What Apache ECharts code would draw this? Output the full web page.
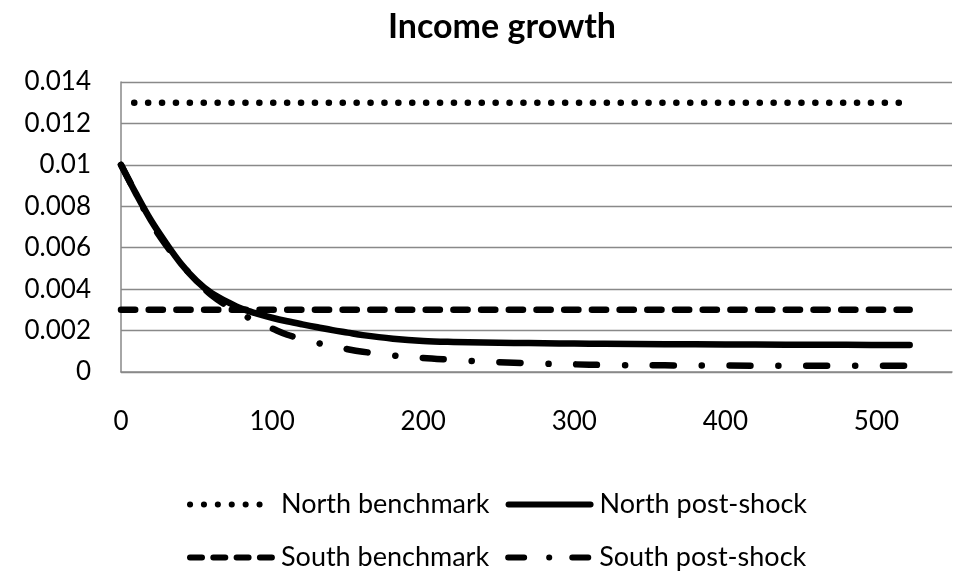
<!DOCTYPE html>
<html>
<head>
<meta charset="utf-8">
<script src="https://cdn.jsdelivr.net/npm/echarts@6/dist/echarts.min.js"></script>
<style>
  html, body { margin: 0; padding: 0; background: #ffffff; }
  #chart { width: 959px; height: 573px; }
</style>
</head>
<body>
<div id="chart"></div>
<script>
// Series names, in drawing order
const seriesNames = ['North benchmark', 'North post-shock', 'South benchmark', 'South post-shock'];

// Benchmark paths are flat: one value at the first and last period
const benchX = [0, 522];
const northBenchmark = [0.013, 0.013];
const southBenchmark = [0.003, 0.003];

// Post-shock paths sampled along the period axis
const shockX = [0, 10, 20, 30, 40, 50, 60, 70, 80, 90, 100, 110, 120, 130, 140, 150, 160, 180,
                200, 220, 240, 260, 280, 300, 320, 360, 400, 440, 480, 522];
const northPostShock = [0.0100, 0.0086, 0.0073, 0.0062, 0.0052, 0.0044, 0.0038, 0.0034, 0.00305, 0.00282,
                        0.00262, 0.00245, 0.0023, 0.00216, 0.00202, 0.0019, 0.00178, 0.00161,
                        0.0015, 0.00145, 0.00142, 0.0014, 0.00139, 0.00137, 0.00136, 0.00134, 0.00133, 0.00132, 0.00131, 0.0013];
const southPostShock = [0.0100, 0.0086, 0.0072, 0.0061, 0.0052, 0.0044, 0.0037, 0.0032, 0.0028, 0.0024,
                        0.0021, 0.0018, 0.0016, 0.0014, 0.00125, 0.0011, 0.00098, 0.0008,
                        0.00068, 0.00059, 0.0005, 0.00045, 0.0004, 0.00037, 0.00034, 0.00032, 0.00031, 0.0003, 0.0003, 0.0003];

// Axis settings
const xAxisMax = 550, xStep = 100;
const yAxisMax = 0.014, yStep = 0.002;

const pairs = (xs, ys) => xs.map((x, i) => [x, ys[i]]);

const FONT = 'Lato, Carlito, "Open Sans", sans-serif';
const LW = 6.5;
const GRID = '#898989';

// Stroke patterns: round dots, solid, dashes, dash-dot
const styles = [
  { type: [0.1, 13.8], dashOffset: 0.7 },
  { type: 'solid' },
  { type: [14.2, 13.5] },
  { type: [21, 28, 0.1, 27.6] }
];
// Shorter patterns for the legend samples
const legendPatterns = [
  { type: [0.1, 13.8], dashOffset: 0 },
  { type: 'solid' },
  { type: [12, 11.3] },
  { type: [16, 25, 0.1, 23] }
];
const dataSets = [
  pairs(benchX, northBenchmark),
  pairs(shockX, northPostShock),
  pairs(benchX, southBenchmark),
  pairs(shockX, southPostShock)
];

const series = seriesNames.map((name, i) => ({
  name: name,
  type: 'line',
  data: dataSets[i],
  symbol: 'none',
  showSymbol: false,
  smooth: i % 2 === 1 ? 0.35 : false,
  animation: false,
  lineStyle: Object.assign({ color: '#000', width: LW, cap: 'round', join: 'round' }, styles[i]),
  itemStyle: { color: '#000' },
  emphasis: { disabled: true }
}));

const legendBase = {
  left: 187,
  padding: 0,
  orient: 'horizontal',
  itemWidth: 82,
  itemHeight: 14,
  itemGap: 16,
  selectedMode: false,
  itemStyle: { opacity: 0 },
  lineStyle: { width: 6, cap: 'round' },
  textStyle: { fontFamily: FONT, fontSize: 27, color: '#000', padding: [0, 0, 0, 4] }
};
const legendItem = i => ({ name: seriesNames[i], lineStyle: legendPatterns[i] });

const chart = echarts.init(document.getElementById('chart'), null, { renderer: 'canvas' });
chart.setOption({
  backgroundColor: '#ffffff',
  animation: false,
  title: {
    text: 'Income growth',
    left: 497,
    textAlign: 'center',
    top: 5,
    textStyle: { fontFamily: FONT, fontSize: 34, fontWeight: 'bold', color: '#000' }
  },
  legend: [
    Object.assign({}, legendBase, { top: 491, data: [legendItem(0), legendItem(1)] }),
    Object.assign({}, legendBase, { top: 544, data: [legendItem(2), legendItem(3)] })
  ],
  grid: { left: 121, right: 7, top: 82, bottom: 201, containLabel: false },
  xAxis: {
    type: 'value',
    min: 0,
    max: xAxisMax,
    interval: xStep,
    axisLine: { show: true, lineStyle: { color: GRID, width: 1.5 } },
    axisTick: { show: false },
    splitLine: { show: false },
    axisLabel: {
      showMaxLabel: false,
      margin: 37,
      fontFamily: FONT, fontSize: 26, color: '#000',
      formatter: v => (v % xStep === 0 ? String(v) : '')
    }
  },
  yAxis: {
    type: 'value',
    min: 0,
    max: yAxisMax,
    interval: yStep,
    axisLine: { show: true, lineStyle: { color: GRID, width: 1.5 } },
    axisTick: { show: false },
    splitLine: { show: true, lineStyle: { color: GRID, width: 1.3 } },
    axisLabel: { margin: 30, fontFamily: FONT, fontSize: 26, color: '#000' }
  },
  series: series
});
</script>
</body>
</html>
